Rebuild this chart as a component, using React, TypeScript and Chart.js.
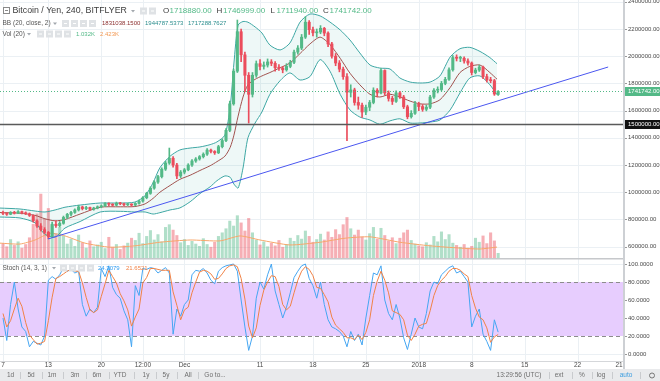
import React, { useEffect, useRef } from "react";
import { Chart, registerables } from "chart.js";

Chart.register(...registerables);

// ---------------- DATA (prices in thousands of yen, one candle per 12h slot) ----------------
const opensK = [
  850, 845, 838, 852, 846, 858, 849, 842, 830, 790,
  752, 725, 705, 675, 765, 755, 772, 815, 838, 852,
  870, 892, 880, 888, 875, 884, 893, 900, 918, 912,
  905, 920, 915, 908, 912, 906, 918, 935, 960, 992,
  1030, 1075, 1115, 1170, 1215, 1250, 1200, 1120, 1148, 1165,
  1200, 1230, 1245, 1262, 1280, 1310, 1300, 1290, 1335, 1380,
  1455, 1650, 1890, 2180, 2010, 1860, 1720, 1860, 1945, 1925,
  1935, 1958, 1948, 1915, 1912, 1900, 1925, 1955, 2030, 2060,
  2140, 2250, 2195, 2172, 2178, 2205, 2170, 2090, 2000, 1950,
  1905, 1850, 1735, 1752, 1660, 1640, 1590, 1625, 1660, 1750,
  1730, 1895, 1730, 1690, 1668, 1730, 1700, 1628, 1555, 1580,
  1650, 1630, 1610, 1625, 1700, 1750, 1755, 1800, 1830, 1900,
  1990, 1985, 1985, 1965, 1950, 1880, 1898, 1920, 1850, 1825,
  1820, 1718.88,
];
const highsK = [
  862, 850, 858, 860, 866, 862, 856, 848, 834, 798,
  770, 740, 712, 780, 790, 785, 825, 845, 860, 878,
  905, 898, 896, 892, 890, 900, 908, 925, 922, 916,
  928, 926, 920, 920, 916, 924, 942, 968, 1000, 1040,
  1085, 1125, 1180, 1228, 1325, 1262, 1212, 1160, 1175, 1210,
  1240, 1255, 1270, 1290, 1322, 1318, 1306, 1345, 1392, 1468,
  1670, 1905, 2266, 2200, 2030, 1880, 1880, 1965, 1975, 1958,
  1980, 1975, 1960, 1938, 1925, 1945, 1970, 2045, 2078, 2160,
  2290, 2262, 2215, 2200, 2225, 2212, 2180, 2102, 2020, 1968,
  1920, 1872, 1790, 1765, 1700, 1655, 1640, 1675, 1768, 1762,
  1910, 1900, 1745, 1705, 1745, 1742, 1712, 1640, 1600, 1668,
  1662, 1645, 1640, 1712, 1762, 1775, 1815, 1845, 1915, 2005,
  2010, 2000, 1995, 1980, 1958, 1912, 1935, 1928, 1868, 1845,
  1830, 1746.999,
];
const lowsK = [
  836, 830, 835, 840, 842, 840, 836, 822, 780, 742,
  715, 695, 660, 668, 742, 745, 765, 805, 826, 845,
  862, 870, 872, 866, 868, 878, 886, 895, 902, 898,
  900, 908, 900, 902, 896, 900, 912, 928, 952, 985,
  1022, 1065, 1105, 1160, 1205, 1185, 1100, 1108, 1135, 1158,
  1190, 1220, 1236, 1252, 1270, 1290, 1278, 1284, 1326, 1372,
  1445, 1640, 1880, 1960, 1740, 1509, 1700, 1845, 1900, 1905,
  1920, 1930, 1890, 1895, 1878, 1890, 1915, 1945, 2015, 2048,
  2130, 2160, 2150, 2140, 2165, 2150, 2070, 1985, 1930, 1885,
  1830, 1380, 1700, 1640, 1610, 1550, 1570, 1600, 1650, 1700,
  1722, 1715, 1670, 1645, 1660, 1690, 1615, 1540, 1545, 1572,
  1600, 1595, 1598, 1615, 1690, 1730, 1745, 1790, 1822, 1890,
  1965, 1960, 1948, 1935, 1862, 1870, 1888, 1835, 1810, 1805,
  1712, 1711.94,
];
const closesK = [
  845, 838, 852, 846, 858, 849, 842, 830, 790, 752,
  725, 705, 675, 765, 755, 772, 815, 838, 852, 870,
  892, 880, 888, 875, 884, 893, 900, 918, 912, 905,
  920, 915, 908, 912, 906, 918, 935, 960, 992, 1030,
  1075, 1115, 1170, 1215, 1250, 1200, 1120, 1148, 1165, 1200,
  1230, 1245, 1262, 1280, 1310, 1300, 1290, 1335, 1380, 1455,
  1650, 1890, 2180, 2010, 1860, 1720, 1860, 1945, 1925, 1935,
  1958, 1948, 1915, 1912, 1900, 1925, 1955, 2030, 2060, 2140,
  2250, 2195, 2172, 2178, 2205, 2170, 2090, 2000, 1950, 1905,
  1850, 1735, 1752, 1660, 1640, 1590, 1625, 1660, 1750, 1730,
  1895, 1730, 1690, 1668, 1730, 1700, 1628, 1555, 1580, 1650,
  1630, 1610, 1625, 1700, 1750, 1755, 1800, 1830, 1900, 1990,
  1985, 1985, 1965, 1950, 1880, 1898, 1920, 1850, 1825, 1820,
  1722, 1741.742,
];
// volume in thousands
const volumesK = [
  3.2, 2.5, 4.1, 2.8, 3.6, 2.2, 3.0, 4.5,
  7.5, 9.8, 14.2, 8.6, 11.0,
  7.2, 5.4, 6.8, 4.9,
  3.1, 4.2, 2.6, 5.1, 3.4, 2.2, 3.8, 2.5, 2.9,
  3.5, 2.1, 4.6, 2.4, 3.0, 1.9, 2.7, 3.3, 4.4, 3.9,
  5.5, 3.2, 4.8, 6.1, 4.0, 5.2, 3.6, 6.8, 7.4,
  6.2, 5.0, 3.4, 4.1, 2.8, 3.7, 3.1, 2.6, 4.3, 3.0, 2.4, 3.5, 4.8, 5.6, 6.5,
  8.2, 7.1, 9.4, 7.8, 6.0, 8.8, 5.6,
  4.0, 2.9, 3.6, 2.5, 3.3, 2.7, 3.9, 2.4, 3.0, 4.4, 3.7, 5.0, 4.2, 6.0,
  4.8, 3.5, 4.1, 5.3, 4.0, 5.8, 4.6, 6.3, 5.2, 7.4, 9.0, 6.5, 5.1, 6.2, 4.7,
  4.0, 5.4, 6.8, 4.2, 6.6, 5.0, 3.8, 4.5, 3.2, 4.4, 5.6, 6.2, 3.9, 3.1, 2.7,
  2.5, 3.4, 2.9, 4.8, 3.6, 5.8, 4.1, 5.2, 3.3, 2.8, 2.4, 3.0, 2.2, 2.6, 4.4, 3.5, 4.9, 3.2, 5.6, 3.8, 1.032,
];
// volume moving average (read points), x in candle slots
const volMaX = [-0.8, 4.5, 8.5, 12.4, 16.4, 21.7, 28.3, 34.9, 41.5, 49.5, 57.4, 62.7, 68, 75.9, 83.9, 90.5, 97.1, 105, 113, 120.9, 126.2, 130.7];
const volMaK = [3.3, 3.1, 4.0, 5.5, 4.9, 3.3, 2.4, 2.7, 3.5, 4.0, 3.8, 4.9, 4.0, 2.9, 3.5, 4.4, 4.7, 3.5, 2.7, 2.2, 2.0, 2.423];

// Bollinger bands (read points)
const bbX = [-0.8, 4.5, 8.5, 11.1, 13.8, 16.4, 20.4, 25.7, 31, 34.9, 37.6, 39.7, 41.5, 44.2, 46.8, 49.5, 52.1, 54.8, 56.6, 58.7, 60.1, 61.1, 62.2, 63.5, 64.8, 66.7, 68.5, 70.6, 73.3, 75.9, 78.6, 81.2, 83.9, 86.5, 89.2, 91.8, 94.4, 97.1, 99.7, 102.4, 105, 107.7, 110.3, 113, 115.6, 118.3, 120.9, 123.5, 126.2, 128.8, 130.7];
const bbUpperK = [884, 877, 862, 855, 870, 890, 906, 921, 921, 928, 975, 1070, 1180, 1265, 1311, 1325, 1333, 1350, 1370, 1420, 1627, 1950, 2229, 2255, 2250, 2215, 2171, 2082, 2046, 2097, 2251, 2310, 2296, 2251, 2193, 2119, 2024, 1935, 1913, 1906, 1840, 1810, 1803, 1810, 1855, 1994, 2055, 2065, 2035, 1990, 1944.787];
const bbMidK = [851, 846, 830, 805, 790, 800, 840, 890, 893, 895, 915, 955, 1000, 1050, 1095, 1125, 1160, 1195, 1225, 1265, 1330, 1420, 1560, 1700, 1790, 1830, 1855, 1880, 1915, 1950, 2020, 2090, 2140, 2085, 1985, 1875, 1790, 1720, 1700, 1720, 1700, 1670, 1650, 1650, 1680, 1770, 1880, 1925, 1935, 1880, 1831.038];
const bbLowerK = [818, 811, 775, 690, 671, 737, 785, 855, 860, 855, 855, 840, 850, 870, 885, 930, 990, 1040, 1085, 1120, 1110, 1060, 1031, 1178, 1400, 1509, 1590, 1720, 1820, 1877, 1825, 1850, 1975, 1890, 1720, 1605, 1553, 1531, 1500, 1525, 1540, 1509, 1509, 1516, 1531, 1605, 1730, 1840, 1855, 1790, 1717.288];

// drawn trend line and horizontal level
const trendX = [11.9, 160.1];
const trendK = [656.5, 1920.7];
const levelK = 1500;

// Stochastic (14,3,1)
const stochK = [
  40, 15, 55, 80, 50, 30, 25, 8, 14, 12,
  10, 20, 82, 86, 83, 88, 96, 92, 94, 90,
  92, 55, 42, 50, 46, 52, 95, 86, 98, 74,
  66, 62, 48, 38, 8, 76, 65, 95, 94, 96,
  95, 90, 93, 96, 90, 22, 50, 42, 55, 60,
  88, 93, 92, 95, 90, 82, 78, 92, 96, 98,
  99, 100, 92, 60, 30, 4, 20, 62, 80, 72,
  88, 100, 70, 55, 40, 52, 68, 85, 92, 98,
  100, 84, 76, 62, 80, 55, 38, 30, 28, 25,
  20, 8, 25, 15, 22, 10, 40, 65, 90, 88,
  98, 60, 45, 38, 55, 40, 18, 5, 22, 40,
  30, 28, 45, 70, 80, 78, 88, 92, 96, 98,
  90, 92, 86, 80, 30, 42, 50, 22, 14, 4,
  38, 24.3079,
];
const stochD = [
  45, 30, 37, 50, 62, 53, 35, 21, 16, 11,
  12, 14, 37, 63, 84, 86, 89, 92, 94, 92,
  92, 79, 63, 49, 46, 49, 64, 78, 93, 86,
  79, 67, 59, 49, 31, 41, 50, 79, 85, 95,
  95, 94, 93, 93, 93, 69, 54, 38, 49, 52,
  68, 80, 91, 93, 92, 89, 83, 84, 89, 95,
  98, 99, 97, 84, 61, 31, 18, 29, 54, 71,
  80, 87, 86, 75, 55, 49, 53, 68, 82, 92,
  97, 94, 87, 74, 73, 66, 58, 41, 32, 28,
  24, 18, 18, 16, 21, 16, 24, 38, 65, 81,
  92, 82, 68, 48, 46, 44, 38, 21, 15, 22,
  31, 33, 34, 48, 65, 76, 82, 86, 92, 95,
  95, 93, 89, 86, 65, 51, 41, 38, 29, 13,
  19, 21.6521,
];

// axis ticks
const priceTicksK = [2400, 2200, 2000, 1800, 1600, 1400, 1200, 1000, 800, 600];
const priceTickLabels = ["2400000.00", "2200000.00", "2000000.00", "1800000.00", "1600000.00", "1400000.00", "1200000.00", "1000000.00", "800000.00", "600000.00"];
const timeTickPos = [0, 12, 26, 37, 48, 68, 82, 96, 110, 124, 138, 152, 163];
const timeTickLabels = ["7", "13", "20", "12:00", "Dec", "11", "18", "25", "2018", "8", "15", "22", "21"];
const stochTicks = [100, 80, 60, 40, 20, 0];
const stochTickLabels = ["100.0000", "80.0000", "60.0000", "40.0000", "20.0000", "0.0000"];
const stochBand = [20, 80];

// legend texts
const titleText = "Bitcoin / Yen, 240, BITFLYER";
const lastCloseLabel = "1741742.00";
const countdownLabel = "02:30:03";
const levelLabel = "1500000.00";
const bbLegend = ["1831038.1500", "1944787.5373", "1717288.7627"];
const volLegend = ["1.032K", "2.423K"];
const stochLegend = ["24.3079", "21.6521"];
const toolbarLeft = ["1d", "5d", "1m", "3m", "6m", "YTD", "1y", "5y", "All", "Go to..."];
const toolbarRight = ["13:29:56 (UTC)", "ext", "%", "log", "auto"];

// ---------------- STYLE ----------------
const GREEN = "#53b987";
const RED = "#eb4d5c";
const GREEN_VOL = "rgba(83,185,135,0.45)";
const RED_VOL = "rgba(235,77,92,0.45)";
const FONT = "'Liberation Sans', Arial, Helvetica, sans-serif";
const GRID = "#ebf0f4";
const TXT = "#4a4a4a";
const X_MIN = -0.794;
const X_MAX = 164.29;
const P_MIN = 516.85;
const P_MAX = 2413.15;
const S_MIN = -7.78;
const S_MAX = 106.67;

function txt(ctx: any, s: string, x: number, y: number, color: string, size: number, align = "left", weight = "") {
  ctx.font = `${weight} ${size}px ${FONT}`.trim();
  ctx.fillStyle = color;
  ctx.textAlign = align;
  ctx.textBaseline = "middle";
  ctx.fillText(s, x, y);
}
function seg(ctx: any, x1: number, y1: number, x2: number, y2: number) {
  ctx.beginPath();
  ctx.moveTo(x1, y1);
  ctx.lineTo(x2, y2);
  ctx.stroke();
}
function caret(ctx: any, x: number, y: number) {
  ctx.fillStyle = "#a3a8ae";
  ctx.beginPath();
  ctx.moveTo(x - 2, y - 1);
  ctx.lineTo(x + 2, y - 1);
  ctx.lineTo(x, y + 1.5);
  ctx.closePath();
  ctx.fill();
}
function iconBoxes(ctx: any, x0: number, y: number, n: number) {
  for (let k = 0; k < n; k++) {
    const bx = x0 + k * 9;
    ctx.fillStyle = "#dfe2e5";
    ctx.fillRect(bx, y - 3.5, 7, 7);
    ctx.fillStyle = "#ffffff";
    ctx.fillRect(bx + 2, y - 0.5, 3, 1);
  }
}

const mainOverlay = {
  id: "mainOverlay",
  beforeDatasetsDraw(chart: any) {
    const { ctx, chartArea: a, scales } = chart;
    const xs = scales.x;
    const ys = scales.y;
    ctx.save();
    ctx.strokeStyle = GRID;
    ctx.lineWidth = 1;
    priceTicksK.forEach((v) => {
      const py = Math.round(ys.getPixelForValue(v)) + 0.5;
      seg(ctx, a.left, py, a.right, py);
    });
    timeTickPos.slice(0, -1).forEach((t) => {
      const px = Math.round(xs.getPixelForValue(t)) + 0.5;
      seg(ctx, px, a.top, px, a.bottom);
    });
    ctx.restore();
  },
  afterDraw(chart: any) {
    const { ctx, chartArea: a, scales } = chart;
    const ys = scales.y;
    ctx.save();
    // horizontal level
    const yl = Math.round(ys.getPixelForValue(levelK)) + 0.5;
    ctx.strokeStyle = "#5a5a5a";
    ctx.lineWidth = 1.5;
    seg(ctx, a.left, yl, a.right, yl);
    // last price dotted
    const last = closesK[closesK.length - 1];
    const yc = Math.round(ys.getPixelForValue(last)) + 0.5;
    ctx.strokeStyle = GREEN;
    ctx.lineWidth = 1;
    ctx.setLineDash([1, 2]);
    seg(ctx, a.left, yc, a.right, yc);
    ctx.setLineDash([]);
    // axis
    ctx.fillStyle = "#ffffff";
    ctx.fillRect(a.right, 0, chart.width - a.right, chart.height);
    ctx.fillStyle = "#cdd0d4";
    ctx.fillRect(a.right - 1, 0, 2, chart.height);
    ctx.strokeStyle = "#9a9a9a";
    priceTicksK.forEach((v, k) => {
      const py = ys.getPixelForValue(v);
      seg(ctx, a.right + 1, Math.round(py) + 0.5, a.right + 3, Math.round(py) + 0.5);
      txt(ctx, priceTickLabels[k], a.right + 4, py, TXT, 6);
    });
    // level label
    ctx.fillStyle = "#111111";
    ctx.fillRect(a.right + 1, yl - 4.5, 35, 9);
    txt(ctx, levelLabel, a.right + 4, yl, "#ffffff", 6);
    // last price labels
    ctx.fillStyle = GREEN;
    ctx.fillRect(a.right + 1, yc - 4.5, 35, 9);
    txt(ctx, lastCloseLabel, a.right + 4, yc, "#ffffff", 6);
    ctx.fillRect(a.right + 10, yc + 5, 26, 8);
    txt(ctx, countdownLabel, a.right + 13, yc + 9, "#ffffff", 6);

    // legend line 1
    ctx.strokeStyle = "#8a8a8a";
    ctx.lineWidth = 1;
    ctx.strokeRect(3.5, 7.5, 6, 6);
    seg(ctx, 5, 10.5, 8, 10.5);
    txt(ctx, titleText, 12.5, 11, "#3c3c3c", 8.8);
    caret(ctx, 133, 11);
    iconBoxes(ctx, 140, 11, 2);
    const n = closesK.length - 1;
    const up = closesK[n] >= opensK[n];
    const vc = up ? GREEN : RED;
    const fmt = (v: number) => (v * 1000).toFixed(2);
    txt(ctx, "O", 163, 11, "#3c3c3c", 8);
    txt(ctx, fmt(opensK[n]), 169.5, 11, vc, 8);
    txt(ctx, "H", 216.5, 11, "#3c3c3c", 8);
    txt(ctx, fmt(highsK[n]), 223, 11, vc, 8);
    txt(ctx, "L", 270.5, 11, "#3c3c3c", 8);
    txt(ctx, fmt(lowsK[n]), 276.5, 11, vc, 8);
    txt(ctx, "C", 323, 11, "#3c3c3c", 8);
    txt(ctx, fmt(closesK[n]), 329.5, 11, vc, 8);
    // legend line 2
    txt(ctx, "BB (20, close, 2)", 2.5, 23.5, "#555555", 6.5);
    caret(ctx, 55, 23.5);
    iconBoxes(ctx, 62, 23.5, 4);
    txt(ctx, bbLegend[0], 102, 23.5, "#8b2f2f", 6);
    txt(ctx, bbLegend[1], 145, 23.5, "#2c8e8e", 6);
    txt(ctx, bbLegend[2], 188, 23.5, "#2c8e8e", 6);
    // legend line 3
    txt(ctx, "Vol (20)", 2.5, 34, "#555555", 6.5);
    caret(ctx, 29, 34);
    iconBoxes(ctx, 37, 34, 4);
    txt(ctx, volLegend[0], 76, 34, GREEN, 6);
    txt(ctx, volLegend[1], 100, 34, "#f39a55", 6);
    ctx.restore();
  },
};

const stochOverlay = {
  id: "stochOverlay",
  beforeDatasetsDraw(chart: any) {
    const { ctx, chartArea: a, scales } = chart;
    const xs = scales.x;
    const ys = scales.y;
    ctx.save();
    const y80 = ys.getPixelForValue(stochBand[1]);
    const y20 = ys.getPixelForValue(stochBand[0]);
    ctx.fillStyle = "rgba(150, 40, 250, 0.23)";
    ctx.fillRect(a.left, y80, a.right - a.left, y20 - y80);
    ctx.strokeStyle = GRID;
    ctx.lineWidth = 1;
    timeTickPos.slice(0, -1).forEach((t) => {
      const px = Math.round(xs.getPixelForValue(t)) + 0.5;
      seg(ctx, px, a.top, px, y80);
      seg(ctx, px, y20, px, a.bottom);
    });
    [100, 0].forEach((v) => {
      const py = Math.round(ys.getPixelForValue(v)) + 0.5;
      seg(ctx, a.left, py, a.right, py);
    });
    ctx.strokeStyle = "#8c8c8c";
    ctx.setLineDash([4, 3]);
    [y80, y20].forEach((py) => seg(ctx, a.left, Math.round(py) + 0.5, a.right, Math.round(py) + 0.5));
    ctx.setLineDash([]);
    ctx.restore();
  },
  afterDraw(chart: any) {
    const { ctx, chartArea: a, scales } = chart;
    const xs = scales.x;
    const ys = scales.y;
    ctx.save();
    ctx.fillStyle = "#ffffff";
    ctx.fillRect(a.right, 0, chart.width - a.right, a.bottom + 8);
    // pane divider and axis lines
    ctx.fillStyle = "#c6c8cb";
    ctx.fillRect(0, 0, a.right, 1.5);
    ctx.fillStyle = "#d5d7da";
    ctx.fillRect(0, a.bottom, a.right, 1);
    ctx.fillStyle = "#cdd0d4";
    ctx.fillRect(a.right - 1, 0, 2, a.bottom + 8);
    ctx.strokeStyle = "#9a9a9a";
    ctx.lineWidth = 1;
    stochTicks.forEach((v, k) => {
      const py = ys.getPixelForValue(v);
      seg(ctx, a.right + 1, Math.round(py) + 0.5, a.right + 3, Math.round(py) + 0.5);
      txt(ctx, stochTickLabels[k], a.right + 4, py, TXT, 6);
    });
    // time axis labels
    timeTickPos.forEach((t, k) => {
      const px = xs.getPixelForValue(t);
      txt(ctx, timeTickLabels[k], px, a.bottom + 4.5, TXT, 6.5, "center");
    });
    // legend
    txt(ctx, "Stoch (14, 3, 1)", 2.5, 10, "#555555", 6.5);
    caret(ctx, 54, 10);
    iconBoxes(ctx, 60, 10, 4);
    txt(ctx, stochLegend[0], 98, 10, "#2e9bf0", 6);
    txt(ctx, stochLegend[1], 126, 10, "#f08246", 6);
    // toolbar
    const ty = a.bottom + 8;
    ctx.fillStyle = "#e9eaec";
    ctx.fillRect(0, ty, chart.width, chart.height - ty);
    const cy = ty + 6.5;
    const leftX = [10.5, 31, 52, 75, 97, 120, 146, 166, 188, 215];
    toolbarLeft.forEach((s, k) => txt(ctx, s, leftX[k], cy, "#6e6e6e", 6.5, "center"));
    ctx.strokeStyle = "#c9cbce";
    [20, 42, 63, 86, 109, 134, 156, 177, 198, 549, 572, 592, 612, 640].forEach((sx) =>
      seg(ctx, sx + 0.5, ty + 3, sx + 0.5, ty + 10)
    );
    const rightX = [519, 559, 582, 601, 626];
    toolbarRight.forEach((s, k) =>
      txt(ctx, s, rightX[k], cy, k === 4 ? "#3d9ee0" : "#6e6e6e", 6.5, "center")
    );
    ctx.strokeStyle = "#777777";
    ctx.beginPath();
    ctx.arc(652, cy, 2.5, 0, Math.PI * 2);
    ctx.stroke();
    ctx.restore();
  },
};

function mainConfig(): any {
  const candleColors = closesK.map((c, i) => (c >= opensK[i] ? GREEN : RED));
  const volColors = closesK.map((c, i) => (c >= opensK[i] ? GREEN_VOL : RED_VOL));
  const bodies = opensK.map((o, i) => ({ x: i, y: [Math.min(o, closesK[i]), Math.max(o, closesK[i])] }));
  const wicks = lowsK.map((l, i) => ({ x: i, y: [l, highsK[i]] }));
  const vols = volumesK.map((v, i) => ({ x: i, y: v }));
  const line = (xsArr: number[], ysArr: number[]) => xsArr.map((x, i) => ({ x, y: ysArr[i] }));
  return {
    type: "bar",
    data: {
      datasets: [
        { type: "bar", data: vols, yAxisID: "yVol", backgroundColor: volColors, barThickness: 2.4, grouped: false, borderWidth: 0, order: 20 },
        { type: "line", data: line(volMaX, volMaK), yAxisID: "yVol", borderColor: "#f7a66a", borderWidth: 1, pointRadius: 0, tension: 0.2, fill: false, order: 19 },
        { type: "line", data: line(bbX, bbUpperK), yAxisID: "y", borderColor: "#3ea7a4", borderWidth: 1, pointRadius: 0, tension: 0.25, fill: "+1", backgroundColor: "rgba(38,166,154,0.08)", order: 10 },
        { type: "line", data: line(bbX, bbLowerK), yAxisID: "y", borderColor: "#3ea7a4", borderWidth: 1, pointRadius: 0, tension: 0.25, fill: false, order: 10 },
        { type: "line", data: line(bbX, bbMidK), yAxisID: "y", borderColor: "#a1524e", borderWidth: 1, pointRadius: 0, tension: 0.25, fill: false, order: 9 },
        { type: "bar", data: wicks, yAxisID: "y", backgroundColor: candleColors, barThickness: 1, grouped: false, borderWidth: 0, minBarLength: 1, order: 5 },
        { type: "bar", data: bodies, yAxisID: "y", backgroundColor: candleColors, barThickness: 2.4, grouped: false, borderWidth: 0, minBarLength: 1, order: 4 },
        { type: "line", data: line(trendX, trendK), yAxisID: "y", borderColor: "#4b57f0", borderWidth: 1, pointRadius: 0, fill: false, order: 2 },
      ],
    },
    options: {
      responsive: false,
      animation: false,
      devicePixelRatio: 1,
      events: [],
      layout: { padding: { left: 0, right: 36, top: 0, bottom: 0 } },
      plugins: { legend: { display: false }, tooltip: { enabled: false } },
      scales: {
        x: { type: "linear", min: X_MIN, max: X_MAX, display: false, offset: false },
        y: { type: "linear", axis: "y", min: P_MIN, max: P_MAX, display: false },
        yVol: { type: "linear", axis: "y", min: 0, max: 57.3, display: false },
      },
    },
    plugins: [mainOverlay],
  };
}

function stochConfig(): any {
  const kData = stochK.map((v, i) => ({ x: i, y: v }));
  const dData = stochD.map((v, i) => ({ x: i, y: v }));
  return {
    type: "line",
    data: {
      datasets: [
        { data: dData, borderColor: "#f08246", borderWidth: 1, pointRadius: 0, tension: 0, fill: false, order: 1 },
        { data: kData, borderColor: "#45a6f2", borderWidth: 1, pointRadius: 0, tension: 0, fill: false, order: 2 },
      ],
    },
    options: {
      responsive: false,
      animation: false,
      devicePixelRatio: 1,
      events: [],
      layout: { padding: { left: 0, right: 36, top: 0, bottom: 20 } },
      plugins: { legend: { display: false }, tooltip: { enabled: false } },
      scales: {
        x: { type: "linear", min: X_MIN, max: X_MAX, display: false, offset: false },
        y: { type: "linear", min: S_MIN, max: S_MAX, display: false },
      },
    },
    plugins: [stochOverlay],
  };
}

export default function App() {
  const mainRef = useRef<HTMLCanvasElement>(null);
  const stochRef = useRef<HTMLCanvasElement>(null);
  useEffect(() => {
    const c1 = new Chart(mainRef.current as any, mainConfig());
    const c2 = new Chart(stochRef.current as any, stochConfig());
    return () => {
      c1.destroy();
      c2.destroy();
    };
  }, []);
  return (
    <div style={{ position: "fixed", left: 0, top: 0, width: 660, height: 381, background: "#ffffff", overflow: "hidden" }}>
      <canvas ref={mainRef} width={660} height={258} style={{ position: "absolute", left: 0, top: 0, width: 660, height: 258 }} />
      <canvas ref={stochRef} width={660} height={123} style={{ position: "absolute", left: 0, top: 258, width: 660, height: 123 }} />
    </div>
  );
}
